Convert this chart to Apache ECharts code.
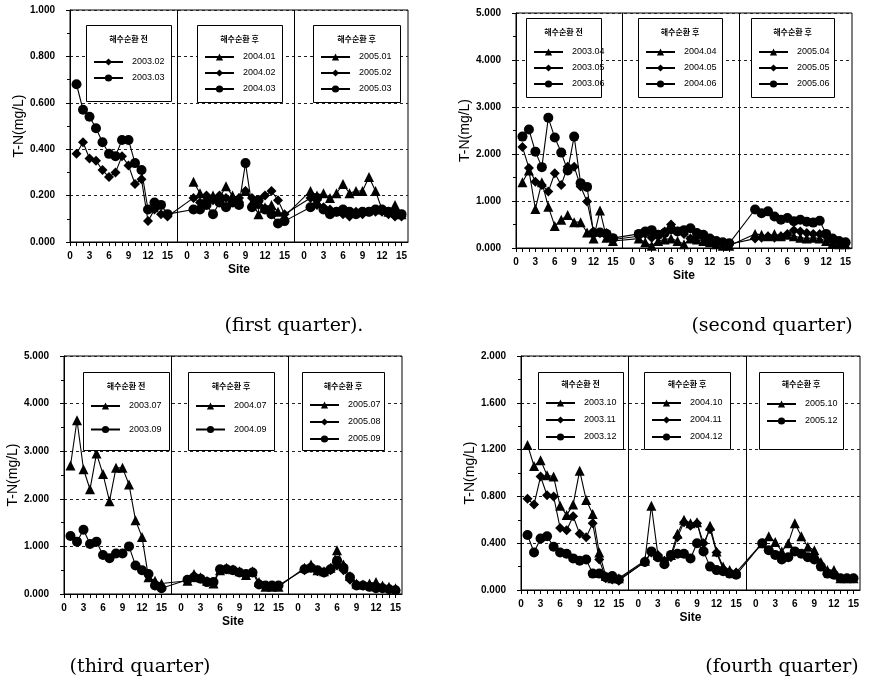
<!DOCTYPE html>
<html><head><meta charset="utf-8">
<script src="https://cdn.jsdelivr.net/npm/echarts@6/dist/echarts.min.js"></script>
<style>html,body{margin:0;padding:0;background:#fff}#c{width:871px;height:685px}</style>
</head><body><div id="c"></div>
<script>
// ---------- data ----------
const sites = [1,2,3,4,5,6,7,8,9,10,11,12,13,14,15];
const siteTicks = [0,3,6,9,12,15];
const titleBefore = '해수순환 전';
const titleAfter = '해수순환 후';
const yAxisName = 'T-N(mg/L)';
const xAxisName = 'Site';
const captions = ['(first quarter).', '(second quarter)', '(third quarter)', '(fourth quarter)'];

// first quarter
const q1_2003_02 = [0.38, 0.43, 0.36, 0.35, 0.31, 0.28, 0.30, 0.37, 0.33, 0.25, 0.27, 0.09, 0.14, 0.12, 0.11];
const q1_2003_03 = [0.68, 0.57, 0.54, 0.49, 0.43, 0.38, 0.37, 0.44, 0.44, 0.34, 0.31, 0.14, 0.17, 0.16, 0.12];
const q1_2004_01 = [0.26, 0.21, 0.19, 0.20, 0.19, 0.24, 0.20, 0.19, 0.22, 0.17, 0.12, 0.15, 0.16, 0.13, 0.11];
const q1_2004_02 = [0.19, 0.17, 0.20, 0.18, 0.20, 0.19, 0.18, 0.19, 0.22, 0.19, 0.16, 0.20, 0.22, 0.18, 0.12];
const q1_2004_03 = [0.14, 0.14, 0.16, 0.12, 0.17, 0.15, 0.17, 0.16, 0.34, 0.15, 0.18, 0.14, 0.12, 0.08, 0.09];
const q1_2005_01 = [0.22, 0.20, 0.21, 0.19, 0.21, 0.25, 0.21, 0.22, 0.22, 0.28, 0.22, 0.14, 0.13, 0.16, 0.12];
const q1_2005_02 = [0.19, 0.16, 0.15, 0.14, 0.13, 0.12, 0.11, 0.13, 0.12, 0.13, 0.13, 0.13, 0.12, 0.11, 0.11];
const q1_2005_03 = [0.15, 0.19, 0.14, 0.12, 0.13, 0.14, 0.13, 0.12, 0.13, 0.13, 0.14, 0.14, 0.13, 0.12, 0.12];
// second quarter
const q2_2003_04 = [1.40, 1.65, 0.83, 1.40, 0.88, 0.47, 0.60, 0.70, 0.55, 0.55, 0.33, 0.20, 0.80, 0.22, 0.15];
const q2_2003_05 = [2.15, 1.70, 1.41, 1.34, 1.20, 1.59, 1.34, 1.73, 1.73, 1.31, 0.99, 0.35, 0.32, 0.32, 0.18];
const q2_2003_06 = [2.37, 2.52, 2.05, 1.72, 2.77, 2.35, 2.03, 1.65, 2.37, 1.38, 1.30, 0.32, 0.33, 0.30, 0.21];
const q2_2004_04 = [0.20, 0.12, 0.05, 0.15, 0.18, 0.20, 0.15, 0.08, 0.20, 0.18, 0.15, 0.12, 0.08, 0.05, 0.05];
const q2_2004_05 = [0.25, 0.30, 0.22, 0.28, 0.35, 0.50, 0.35, 0.30, 0.20, 0.25, 0.22, 0.15, 0.12, 0.10, 0.08];
const q2_2004_06 = [0.30, 0.35, 0.38, 0.28, 0.32, 0.40, 0.35, 0.38, 0.42, 0.32, 0.28, 0.20, 0.15, 0.12, 0.10];
const q2_2005_04 = [0.30, 0.28, 0.25, 0.30, 0.25, 0.28, 0.25, 0.22, 0.20, 0.22, 0.20, 0.15, 0.10, 0.08, 0.08];
const q2_2005_05 = [0.20, 0.22, 0.25, 0.22, 0.25, 0.30, 0.38, 0.35, 0.32, 0.30, 0.30, 0.25, 0.18, 0.12, 0.10];
const q2_2005_06 = [0.82, 0.74, 0.78, 0.67, 0.60, 0.64, 0.57, 0.60, 0.56, 0.54, 0.58, 0.30, 0.20, 0.15, 0.12];
// third quarter
const q3_2003_07 = [2.70, 3.65, 2.62, 2.20, 2.95, 2.52, 1.95, 2.65, 2.65, 2.30, 1.55, 1.20, 0.35, 0.28, 0.22];
const q3_2003_09 = [1.22, 1.10, 1.35, 1.05, 1.10, 0.82, 0.75, 0.85, 0.85, 1.00, 0.60, 0.50, 0.42, 0.18, 0.12];
const q3_2004_07 = [0.28, 0.42, 0.35, 0.28, 0.22, 0.50, 0.55, 0.52, 0.48, 0.40, 0.48, 0.25, 0.15, 0.15, 0.15];
const q3_2004_09 = [0.30, 0.35, 0.32, 0.25, 0.25, 0.52, 0.52, 0.50, 0.45, 0.42, 0.45, 0.20, 0.18, 0.18, 0.18];
const q3_2005_07 = [0.55, 0.62, 0.50, 0.48, 0.55, 0.92, 0.62, 0.38, 0.22, 0.20, 0.22, 0.25, 0.18, 0.15, 0.12];
const q3_2005_08 = [0.50, 0.55, 0.48, 0.45, 0.50, 0.60, 0.50, 0.30, 0.20, 0.18, 0.15, 0.15, 0.12, 0.10, 0.08];
const q3_2005_09 = [0.52, 0.55, 0.50, 0.45, 0.52, 0.70, 0.55, 0.35, 0.18, 0.18, 0.15, 0.12, 0.12, 0.10, 0.08];
// fourth quarter
const q4_2003_10 = [1.24, 1.06, 1.11, 0.98, 0.97, 0.72, 0.64, 0.73, 1.02, 0.77, 0.65, 0.32, 0.12, 0.10, 0.10];
const q4_2003_11 = [0.78, 0.73, 0.97, 0.81, 0.80, 0.53, 0.51, 0.63, 0.48, 0.45, 0.57, 0.26, 0.10, 0.09, 0.08];
const q4_2003_12 = [0.47, 0.32, 0.44, 0.46, 0.37, 0.32, 0.31, 0.27, 0.25, 0.26, 0.14, 0.14, 0.11, 0.12, 0.09];
const q4_2004_10 = [0.25, 0.72, 0.30, 0.25, 0.30, 0.48, 0.60, 0.57, 0.58, 0.36, 0.55, 0.33, 0.20, 0.17, 0.15];
const q4_2004_11 = [0.24, 0.32, 0.30, 0.25, 0.28, 0.45, 0.58, 0.55, 0.57, 0.40, 0.52, 0.32, 0.18, 0.15, 0.15];
const q4_2004_12 = [0.24, 0.33, 0.28, 0.22, 0.30, 0.31, 0.31, 0.27, 0.40, 0.33, 0.20, 0.17, 0.16, 0.14, 0.13];
const q4_2005_10 = [0.40, 0.46, 0.41, 0.33, 0.40, 0.57, 0.46, 0.37, 0.34, 0.24, 0.17, 0.17, 0.10, 0.10, 0.10];
const q4_2005_12 = [0.40, 0.34, 0.30, 0.26, 0.28, 0.33, 0.31, 0.28, 0.26, 0.20, 0.14, 0.13, 0.10, 0.10, 0.10];

// ---------- layout ----------
const SEC = 18;            // x offset of each section on the shared axis
const DIVIDERS = [16.5, 34.5];
const X_MAX = 52;

const panels = [
  { grid:{left:70, top:10, width:338, height:232}, ymax:1.0, titleDy:14, caption:{x:294, y:326},
    sections:[
      { title:titleBefore, box:[86,25,85,76], first:62, step:16,
        series:[['2003.02', q1_2003_02, 'diamond'], ['2003.03', q1_2003_03, 'circle']] },
      { title:titleAfter, box:[197,25,85,77], first:57, step:16,
        series:[['2004.01', q1_2004_01, 'triangle'], ['2004.02', q1_2004_02, 'diamond'], ['2004.03', q1_2004_03, 'circle']] },
      { title:titleAfter, box:[313,25,87,77], first:57, step:16,
        series:[['2005.01', q1_2005_01, 'triangle'], ['2005.02', q1_2005_02, 'diamond'], ['2005.03', q1_2005_03, 'circle']] }
    ]},
  { grid:{left:516, top:13, width:336, height:235}, ymax:5.0, titleDy:14, caption:{x:772, y:326},
    sections:[
      { title:titleBefore, box:[526,18,75,79], first:52, step:16,
        series:[['2003.04', q2_2003_04, 'triangle'], ['2003.05', q2_2003_05, 'diamond'], ['2003.06', q2_2003_06, 'circle']] },
      { title:titleAfter, box:[638,18,84,79], first:52, step:16,
        series:[['2004.04', q2_2004_04, 'triangle'], ['2004.05', q2_2004_05, 'diamond'], ['2004.06', q2_2004_06, 'circle']] },
      { title:titleAfter, box:[751,18,83,79], first:52, step:16,
        series:[['2005.04', q2_2005_04, 'triangle'], ['2005.05', q2_2005_05, 'diamond'], ['2005.06', q2_2005_06, 'circle']] }
    ]},
  { grid:{left:64, top:356, width:338, height:238}, ymax:5.0, titleDy:14, caption:{x:140, y:667},
    sections:[
      { title:titleBefore, box:[83,372,86,78], first:406, step:23.5,
        series:[['2003.07', q3_2003_07, 'triangle'], ['2003.09', q3_2003_09, 'circle']] },
      { title:titleAfter, box:[188,372,86,78], first:406, step:23.5,
        series:[['2004.07', q3_2004_07, 'triangle'], ['2004.09', q3_2004_09, 'circle']] },
      { title:titleAfter, box:[302,372,82,78], first:405, step:17,
        series:[['2005.07', q3_2005_07, 'triangle'], ['2005.08', q3_2005_08, 'diamond'], ['2005.09', q3_2005_09, 'circle']] }
    ]},
  { grid:{left:521, top:356, width:339, height:234}, ymax:2.0, titleDy:12, caption:{x:782, y:667},
    sections:[
      { title:titleBefore, box:[538,372,85,77], first:403, step:17,
        series:[['2003.10', q4_2003_10, 'triangle'], ['2003.11', q4_2003_11, 'diamond'], ['2003.12', q4_2003_12, 'circle']] },
      { title:titleAfter, box:[644,372,86,77], first:403, step:17,
        series:[['2004.10', q4_2004_10, 'triangle'], ['2004.11', q4_2004_11, 'diamond'], ['2004.12', q4_2004_12, 'circle']] },
      { title:titleAfter, box:[759,372,84,77], first:404, step:17,
        series:[['2005.10', q4_2005_10, 'triangle'], ['2005.12', q4_2005_12, 'circle']] }
    ]}
];

const symSize = { triangle: 10, diamond: 10, circle: 10 };
const AX_FONT = 'Liberation Sans';

const grids = [], xAxes = [], yAxes = [], series = [], legends = [], graphics = [];
const tickVals = [], labelVals = [];
[0,1,2].forEach(s => {
  sites.concat([0]).forEach(t => tickVals.push(t + s*SEC));
  siteTicks.forEach(t => labelVals.push(t + s*SEC));
});

panels.forEach((p, pi) => {
  grids.push(Object.assign({ show:true, borderColor:'#000', borderWidth:1, backgroundColor:'transparent' }, p.grid));
  xAxes.push({
    gridIndex: pi, type:'value', min:0, max:X_MAX,
    name: xAxisName, nameLocation:'middle', nameGap:22,
    nameTextStyle:{ fontFamily:AX_FONT, fontSize:12, fontWeight:'bold', color:'#000' },
    axisLine:{ onZero:false, lineStyle:{ color:'#000', width:1 } },
    axisTick:{ show:true, inside:false, length:4, customValues: tickVals, lineStyle:{ color:'#000' } },
    axisLabel:{ customValues: labelVals, margin:9, fontFamily:AX_FONT, fontSize:10, fontWeight:'bold', color:'#000',
      formatter: v => String(Math.round(v) % SEC) },
    splitLine:{ show:false }
  });
  yAxes.push({
    gridIndex: pi, type:'value', min:0, max:p.ymax, interval:p.ymax/5,
    name: yAxisName, nameLocation:'middle', nameGap:43, nameRotate:90,
    nameTextStyle:{ fontFamily:AX_FONT, fontSize:14, color:'#000' },
    axisLine:{ show:true, lineStyle:{ color:'#000', width:1 } },
    axisTick:{ show:true, inside:false, length:4, lineStyle:{ color:'#000' } },
    minorTick:{ show:true, splitNumber:2, length:3, lineStyle:{ color:'#000' } },
    axisLabel:{ margin:15, fontFamily:AX_FONT, fontSize:10, fontWeight:'bold', color:'#000',
      formatter: v => v.toFixed(3) },
    splitLine:{ show:true, lineStyle:{ color:'#222', width:1, type:[3,3] } }
  });

  // section data series
  p.sections.forEach((sec, si) => {
    sec.series.forEach(([name, vals, shape]) => {
      series.push({
        type:'line', name, xAxisIndex:pi, yAxisIndex:pi, animation:false,
        data: vals.map((v, i) => [sites[i] + si*SEC, v]),
        symbol: shape, symbolSize: symSize[shape], showSymbol:true,
        lineStyle:{ color:'#000', width:1.1 }, itemStyle:{ color:'#000' }, z:2
      });
    });
    // legend box, title, legend
    const [bx, by, bw, bh] = sec.box;
    graphics.push({ type:'rect', z:3, silent:true,
      shape:{ x:bx+0.5, y:by+0.5, width:bw, height:bh },
      style:{ fill:'#fff', stroke:'#000', lineWidth:1 } });
    graphics.push({ type:'text', z:5, silent:true, x:bx + bw/2, y:by + p.titleDy,
      style:{ text:sec.title, fill:'#000', font:'bold 8px "Noto Sans CJK KR"', align:'center', verticalAlign:'middle' } });
    legends.push({
      data: sec.series.map(s => s[0]), orient:'vertical', left: bx + 7, top: sec.first - 6,
      padding:0, itemWidth:29, itemHeight:9, itemGap: sec.step - 12, z:4,
      selectedMode:false,
      textStyle:{ fontFamily:'"Liberation Sans Narrow", "Arial Narrow", "Liberation Sans"', fontSize:9, color:'#000', lineHeight:12, padding:[0,0,0,4] }
    });
  });

  // connecting segments between consecutive sections (same marker slot)
  for (let si = 0; si < p.sections.length - 1; si++) {
    p.sections[si].series.forEach(([n1, v1, shape]) => {
      const nxt = p.sections[si+1].series.find(s => s[2] === shape);
      if (!nxt) return;
      const v2 = nxt[1];
      series.push({
        type:'line', name:'link-' + n1, xAxisIndex:pi, yAxisIndex:pi, animation:false, silent:true,
        data:[[sites[sites.length-1] + si*SEC, v1[v1.length-1]], [sites[0] + (si+1)*SEC, v2[0]]],
        symbol:'none', lineStyle:{ color:'#000', width:1.1 }, z:2
      });
    });
  }

  // section dividers
  series.push({
    type:'line', name:'div-' + pi, xAxisIndex:pi, yAxisIndex:pi, data:[], symbol:'none', animation:false, silent:true,
    markLine:{ silent:true, symbol:'none', animation:false, label:{ show:false },
      lineStyle:{ color:'#000', type:'solid', width:1 },
      data: DIVIDERS.map(d => ({ xAxis: d })) }
  });

  graphics.push({ type:'text', z:5, silent:true, x:p.caption.x, y:p.caption.y,
    style:{ text:captions[pi], fill:'#000', font:'19px "DejaVu Serif"', align:'center', verticalAlign:'middle' } });
});

const chart = echarts.init(document.getElementById('c'), null, { renderer:'canvas' });
chart.setOption({
  backgroundColor:'#fff',
  animation:false,
  grid: grids, xAxis: xAxes, yAxis: yAxes,
  legend: legends,
  graphic: { elements: graphics },
  series
});
</script>
</body></html>
